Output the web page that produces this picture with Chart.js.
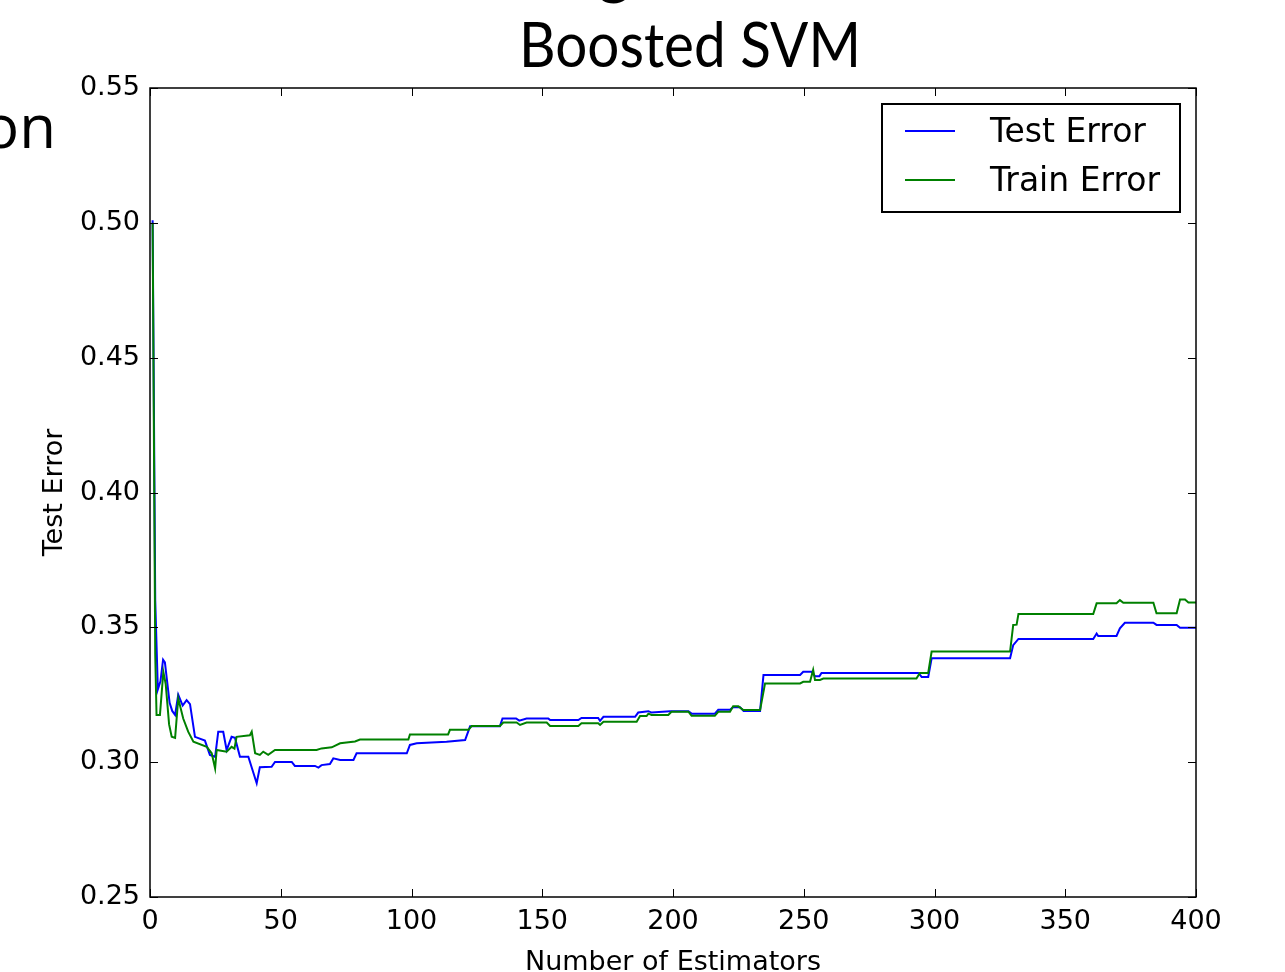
<!DOCTYPE html>
<html>
<head>
<meta charset="utf-8">
<script src="https://cdn.jsdelivr.net/npm/chart.js@4"></script>
<style>
html,body{margin:0;padding:0;background:#fff;}
#wrap{position:relative;width:1285px;height:972px;}
</style>
</head>
<body>
<div id="wrap"><canvas id="c"></canvas></div>
<script>
// ---- data ----
const chartTitle = "Boosted SVM";
const xAxisTitle = "Number of Estimators";
const yAxisTitle = "Test Error";
const seriesNames = ["Test Error", "Train Error"];
const xTickValues = [0, 50, 100, 150, 200, 250, 300, 350, 400];
const yTickValues = [0.25, 0.30, 0.35, 0.40, 0.45, 0.50, 0.55];

const testPoints = [
 [1,0.501],[2,0.36],[3,0.327],[4,0.330],[5,0.338],[5.7,0.337],[7.5,0.322],[8.5,0.319],[9.6,0.3175],[10.8,0.325],
 [12.5,0.321],[14,0.323],[15.3,0.3215],[17.2,0.3094],[21,0.308],[22.9,0.3027],[24.9,0.302],[26.1,0.3113],[28,0.3113],
 [29.3,0.3045],[31.2,0.3094],[32.5,0.309],[34.4,0.302],[37.6,0.302],[40.8,0.2922],[42,0.2981],[46.5,0.2983],[47.8,0.3001],
 [54.2,0.3001],[55.4,0.2986],[63.1,0.2986],[64.4,0.298],[65.6,0.2989],[68.8,0.2993],[70.1,0.3014],[72.7,0.3008],[77.8,0.3008],
 [79,0.3033],[98.2,0.3033],[99.4,0.3064],[102,0.307],[113.4,0.3076],[120.5,0.3082],[122.4,0.3133],[133.8,0.3133],
 [134.8,0.3162],[140,0.3162],[141.2,0.3154],[144,0.3162],[152.3,0.3162],[153,0.3156],[163.8,0.3156],[165,0.3164],
 [171.4,0.3164],[172.1,0.3153],[173.4,0.3168],[185.5,0.3168],[186.7,0.3184],[190.6,0.3189],[191.8,0.3184],[198.9,0.3189],
 [205.9,0.3189],[207.1,0.318],[216,0.318],[217.3,0.3194],[221.8,0.3194],[223,0.3204],[225.6,0.3204],[227,0.319],
 [233.3,0.319],[234.6,0.3323],[248.6,0.3323],[249.8,0.3335],[253,0.3335],[254.3,0.3319],[256,0.3319],[256.8,0.3331],
 [293.8,0.3331],[295.1,0.3316],[297.6,0.3316],[298.9,0.3385],[328.9,0.3385],[330.1,0.3434],[332.1,0.3457],[360.7,0.3457],
 [362,0.3477],[362.6,0.3468],[369.6,0.3468],[370.9,0.3496],[372.8,0.3517],[383.7,0.3517],[384.9,0.3509],[392.6,0.3509],
 [393.9,0.3498],[400,0.3498]
];

const trainPoints = [
 [1,0.500],[2,0.34],[2.5,0.3175],[3.8,0.3175],[5.1,0.3335],[6,0.329],[7.3,0.314],[8.3,0.3094],[9.6,0.309],[10.8,0.3236],
 [12.7,0.3162],[14.6,0.3113],[16.6,0.3076],[21.7,0.3057],[23.6,0.3033],[24.9,0.2977],[25.5,0.3045],[29.3,0.3039],
 [31.2,0.3057],[32.3,0.305],[33.1,0.3094],[38.2,0.3100],[38.9,0.3113],[40.2,0.3033],[42,0.3027],[43.3,0.3039],[45.2,0.3027],
 [47.8,0.3045],[63.7,0.3045],[65.6,0.3051],[69.5,0.3055],[72.7,0.307],[78.4,0.3077],[80.3,0.3084],[98.8,0.3084],
 [99.4,0.3103],[114,0.3103],[114.7,0.312],[121.8,0.312],[123,0.3134],[133.8,0.3134],[135.1,0.3147],[140.2,0.3147],
 [141.5,0.3138],[144,0.3147],[151.7,0.3147],[153,0.3134],[163.8,0.3134],[165,0.3144],[171.4,0.3144],[172.1,0.3138],
 [173.4,0.315],[186.1,0.315],[187.4,0.3171],[189.9,0.3171],[190.6,0.318],[191.8,0.3175],[198.2,0.3175],[199.4,0.3187],
 [205.9,0.3187],[207.1,0.3172],[216,0.3172],[217.3,0.3187],[221.8,0.3187],[223,0.3207],[225,0.3207],[226.9,0.3193],
 [233.3,0.3193],[235.2,0.3292],[248.6,0.3292],[249.8,0.3298],[252.4,0.3298],[253.6,0.3342],[254.3,0.3305],[256.2,0.3305],
 [257.5,0.331],[293.1,0.331],[294.4,0.3331],[297.6,0.3331],[298.9,0.341],[328.9,0.341],[330.1,0.3509],[331.4,0.351],
 [332.1,0.3549],[360.7,0.3549],[362,0.3589],[369.6,0.3589],[370.9,0.3601],[372.2,0.3591],[383.7,0.3591],[384.9,0.3552],
 [392.6,0.3552],[393.9,0.3603],[395.8,0.3603],[397.1,0.3592],[400,0.3592]
];

const seriesColors = ["#0000ff", "#008000"];

// ---- drawing ----
const FONT = "'DejaVu Sans', sans-serif";

const decorPlugin = {
  id: 'decor',
  afterDraw(chart) {
    const ctx = chart.ctx;
    const a = chart.chartArea;
    const xs = chart.scales.x, ys = chart.scales.y;
    ctx.save();
    // frame
    ctx.strokeStyle = '#000';
    ctx.lineWidth = 1.5;
    ctx.strokeRect(a.left, a.top, a.right - a.left, a.bottom - a.top);
    // inward tick marks on all sides
    ctx.lineWidth = 1;
    const tl = 8;
    ctx.beginPath();
    xTickValues.forEach(v => {
      const px = Math.round(xs.getPixelForValue(v)) + 0.5;
      ctx.moveTo(px, a.bottom); ctx.lineTo(px, a.bottom - tl);
      ctx.moveTo(px, a.top); ctx.lineTo(px, a.top + tl);
    });
    yTickValues.forEach(v => {
      const py = Math.round(ys.getPixelForValue(v)) + 0.5;
      ctx.moveTo(a.left, py); ctx.lineTo(a.left + tl, py);
      ctx.moveTo(a.right, py); ctx.lineTo(a.right - tl, py);
    });
    ctx.stroke();

    // axis titles
    ctx.fillStyle = '#000';
    ctx.font = "27px " + FONT;
    ctx.textAlign = 'center';
    ctx.textBaseline = 'alphabetic';
    ctx.fillText(xAxisTitle, (a.left + a.right) / 2, 970);
    ctx.save();
    ctx.translate(62, (a.top + a.bottom) / 2);
    ctx.rotate(-Math.PI / 2);
    ctx.fillText(yAxisTitle, 0, 0);
    ctx.restore();

    // legend box
    const lx = 882, ly = 104, lw = 298, lh = 108;
    ctx.fillStyle = '#fff';
    ctx.fillRect(lx, ly, lw, lh);
    ctx.strokeStyle = '#000';
    ctx.lineWidth = 2;
    ctx.strokeRect(lx, ly, lw, lh);
    ctx.font = "33px " + FONT;
    ctx.textAlign = 'left';
    ctx.textBaseline = 'middle';
    chart.data.datasets.forEach((ds, i) => {
      const cy = ly + 27 + i * 49;
      ctx.strokeStyle = ds.borderColor;
      ctx.lineWidth = 2;
      ctx.beginPath();
      ctx.moveTo(905, cy); ctx.lineTo(955, cy);
      ctx.stroke();
      ctx.fillStyle = '#000';
      ctx.fillText(ds.label, 990, cy + 2);
    });

    // slide title and surrounding slide text fragments
    ctx.fillStyle = '#000';
    ctx.textBaseline = 'alphabetic';
    ctx.font = "62px Lato, 'Open Sans', sans-serif";
    const tw = ctx.measureText(chartTitle).width;
    const targetW = 342;
    ctx.save();
    ctx.translate(690, 67);
    ctx.scale(targetW / tw, 1);
    ctx.textAlign = 'center';
    ctx.fillText(chartTitle, 0, 0);
    ctx.restore();
    ctx.textAlign = 'center';
    ctx.fillText('g', 614, -8);
    ctx.font = "60px 'Open Sans', sans-serif";
    ctx.textAlign = 'right';
    ctx.fillText('on', 56, 148);
    ctx.restore();
  }
};

new Chart(document.getElementById('c'), {
  type: 'line',
  data: {
    datasets: [
      { label: seriesNames[0], data: testPoints.map(p => ({x: p[0], y: p[1]})),
        borderColor: seriesColors[0], backgroundColor: seriesColors[0], borderWidth: 2, pointRadius: 0, tension: 0, order: 1 },
      { label: seriesNames[1], data: trainPoints.map(p => ({x: p[0], y: p[1]})),
        borderColor: seriesColors[1], backgroundColor: seriesColors[1], borderWidth: 2, pointRadius: 0, tension: 0, order: 0 }
    ]
  },
  options: {
    responsive: true,
    maintainAspectRatio: false,
    animation: false,
    events: [],
    layout: { padding: { left: 0, right: 89, top: 88, bottom: 0 } },
    plugins: { legend: { display: false }, title: { display: false }, tooltip: { enabled: false } },
    scales: {
      x: {
        type: 'linear', min: 0, max: 400,
        afterBuildTicks: s => { s.ticks = xTickValues.map(v => ({value: v})); },
        afterFit: s => { s.height = 75; },
        grid: { display: false, drawTicks: false },
        border: { display: false },
        ticks: { color: '#000', padding: 9, maxRotation: 0, font: { family: FONT, size: 27 }, callback: v => String(v) }
      },
      y: {
        type: 'linear', min: 0.25, max: 0.55,
        afterBuildTicks: s => { s.ticks = yTickValues.map(v => ({value: v})); },
        afterFit: s => { s.width = 150; },
        grid: { display: false, drawTicks: false },
        border: { display: false },
        ticks: { color: '#000', padding: 10, font: { family: FONT, size: 27 }, callback: v => Number(v).toFixed(2) }
      }
    }
  },
  plugins: [decorPlugin]
});
</script>
</body>
</html>
